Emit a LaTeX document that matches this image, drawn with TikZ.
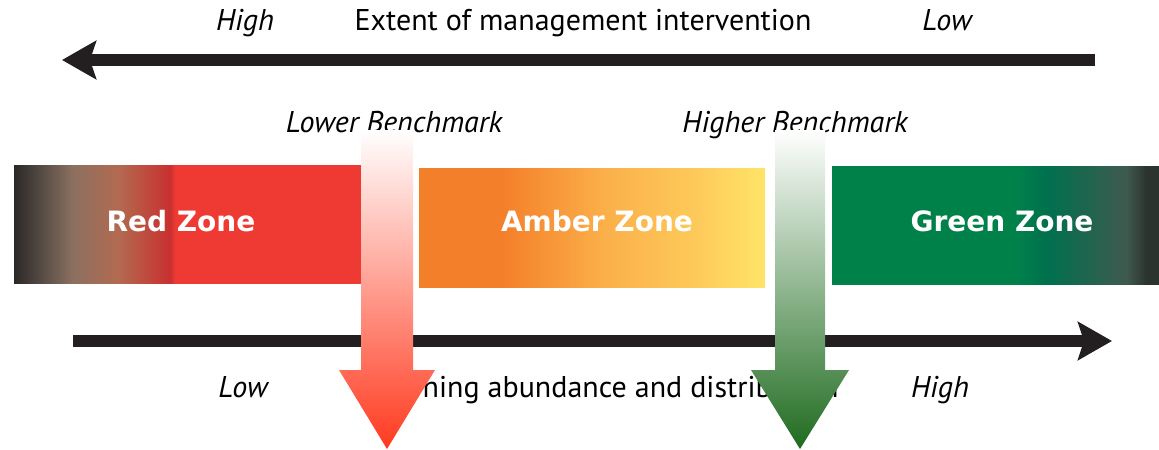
\documentclass[tikz,border=0pt]{standalone}
\usepackage{fontspec}
\setmainfont{PT Sans}
\newfontfamily\zonefont{DejaVu Sans}
\usetikzlibrary{arrows.meta}

\definecolor{arrowBlack}{HTML}{231F20}
\definecolor{zoneDark}{HTML}{2B2826}
\definecolor{zoneDarkB}{HTML}{5C5049}
\definecolor{zoneBrown}{HTML}{8C7060}
\definecolor{zoneRust}{HTML}{B26A50}
\definecolor{zoneRedDeep}{HTML}{C9302F}
\definecolor{zoneRed}{HTML}{EE3A33}
\definecolor{zoneOrange}{HTML}{F47F2A}
\definecolor{zoneAmber}{HTML}{FBB04A}
\definecolor{zoneGold}{HTML}{FDCA5A}
\definecolor{zoneYellow}{HTML}{FFE468}
\definecolor{zoneGreen}{HTML}{00814A}
\definecolor{zoneTeal}{HTML}{00704E}
\definecolor{zoneSlate}{HTML}{3F5A4F}
\definecolor{zoneCoal}{HTML}{2C3430}
\definecolor{benchRed}{HTML}{FF3A1F}
\definecolor{benchPink}{HTML}{FFACA6}
\definecolor{benchGreen}{HTML}{1F6B1F}
\definecolor{benchSage}{HTML}{A9BBA9}

\pgfdeclarehorizontalshading{redzone}{100bp}{color(0bp)=(zoneDark); color(25bp)=(zoneDark);
  color(29.5bp)=(zoneDarkB); color(33.5bp)=(zoneBrown); color(40bp)=(zoneRust);
  color(47.5bp)=(zoneRedDeep); color(48.2bp)=(zoneRed); color(100bp)=(zoneRed)}
\pgfdeclarehorizontalshading{amberzone}{100bp}{color(0bp)=(zoneOrange); color(37bp)=(zoneOrange);
  color(52bp)=(zoneAmber); color(65bp)=(zoneGold); color(75bp)=(zoneYellow); color(100bp)=(zoneYellow)}
\pgfdeclarehorizontalshading{greenzone}{100bp}{color(0bp)=(zoneGreen); color(53bp)=(zoneGreen);
  color(58bp)=(zoneTeal); color(70bp)=(zoneSlate); color(73bp)=(zoneCoal); color(100bp)=(zoneCoal)}

\tikzset{
  zone/.style={inner sep=0pt},
  zonelabel/.style={anchor=base, inner sep=0pt, text=white, font=\zonefont\bfseries\fontsize{14}{16}\selectfont},
  axislabel/.style={anchor=base, inner sep=0pt, font=\fontsize{15}{17}\selectfont},
  endlabel/.style={anchor=base, inner sep=0pt, font=\itshape\fontsize{15}{17}\selectfont},
  bigarrow/.style={line width=6pt, draw=arrowBlack,
    -{Stealth[length=17pt,width=19pt,inset=3pt]}}
}

\begin{document}
\begin{tikzpicture}[x=0.5pt,y=-0.5pt]
    \useasboundingbox (0,0) rectangle (1159,449);

    % zones
    \node[zone, shading=redzone, minimum width=173.5pt, minimum height=59pt] (red) at (187.5,224) {};
    \node[zone, shading=amberzone, minimum width=173pt, minimum height=59.5pt] (amber) at (592,227.5) {};
    \node[zone, shading=greenzone, minimum width=163.5pt, minimum height=59pt] (green) at (995.5,225) {};
    \node[zonelabel] (redLabel) at (181,231) {Red Zone};
    \node[zonelabel] (amberLabel) at (597,231) {Amber Zone};
    \node[zonelabel] (greenLabel) at (1002,231) {Green Zone};

    % top axis
    \coordinate (mgmtStart) at (1095,60);
    \coordinate (mgmtEnd) at (62,60);
    \draw[bigarrow] (mgmtStart) -- (mgmtEnd);
    \node[endlabel] (mgmtHigh) at (245,31) {High};
    \node[axislabel] (mgmtTitle) at (583,31) {Extent of management intervention};
    \node[endlabel] (mgmtLow) at (947,31) {Low};

    % bottom axis
    \coordinate (abundStart) at (73,341);
    \coordinate (abundEnd) at (1112,341);
    \draw[bigarrow] (abundStart) -- (abundEnd);
    \node[endlabel] (abundLow) at (243,397) {Low};
    \node[axislabel, anchor=base east] (abundTitle) at (839,397) {ning abundance and distribution};
    \node[endlabel] (abundHigh) at (940,397) {High};

    % benchmarks
    \node[endlabel] (lowerBench) at (394,132) {Lower Benchmark};
    \node[endlabel] (higherBench) at (795,132) {Higher Benchmark};

    \coordinate (lowerTop) at (387,130);
    \coordinate (lowerTip) at (387,449);
    \shade[top color=white, middle color=benchPink, bottom color=benchRed]
        (lowerTop) ++(-26,0) -- ++(0,240) -- ++(-22,0) -- (lowerTip)
        -- ++(48,-79) -- ++(-22,0) -- ++(0,-240) -- cycle;

    \coordinate (higherTop) at (800,130);
    \coordinate (higherTip) at (800,449);
    \shade[top color=white, middle color=benchSage, bottom color=benchGreen]
        (higherTop) ++(-25,0) -- ++(0,240) -- ++(-24,0) -- (higherTip)
        -- ++(49,-79) -- ++(-24,0) -- ++(0,-240) -- cycle;
\end{tikzpicture}
\end{document}
